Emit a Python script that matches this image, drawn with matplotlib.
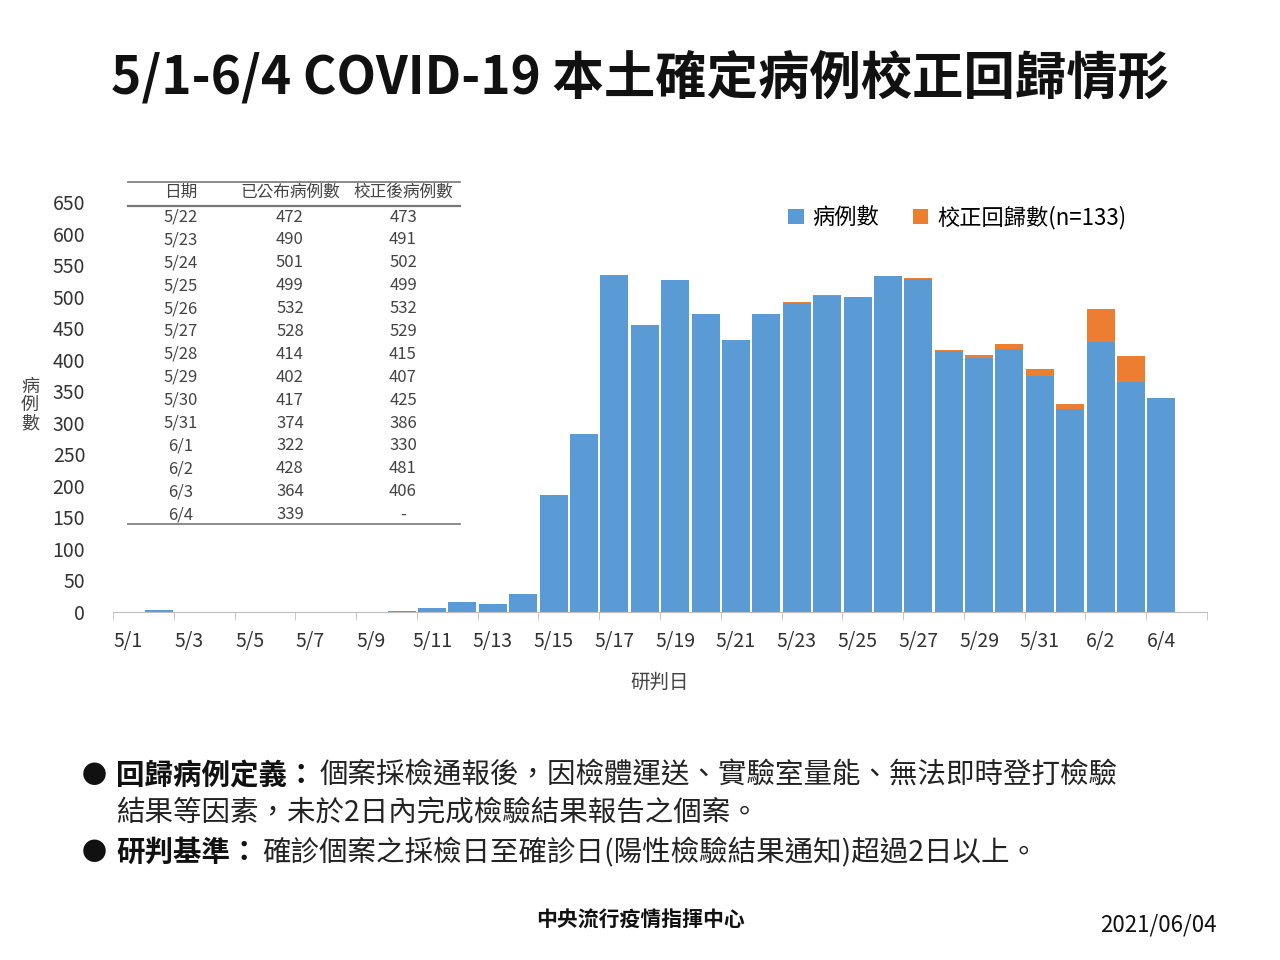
import matplotlib
matplotlib.use("Agg")
import matplotlib.pyplot as plt
import numpy as np

plt.rcParams['font.family'] = ['Noto Sans CJK TC', 'DejaVu Sans']

dates = [f"5/{d}" for d in range(1, 32)] + [f"6/{d}" for d in range(1, 5)]
cases = [0, 3, 0, 0, 0, 0, 0, 0, 0, 2, 6, 16, 13, 28, 185, 282, 535, 455, 527, 472, 432,
         472, 490, 501, 499, 532, 528, 414, 402, 417, 374, 322, 428, 364, 339]
corrected = [0]*21 + [1, 1, 1, 0, 0, 1, 1, 5, 8, 12, 8, 53, 42, 0]

tbl_dates = ["5/22","5/23","5/24","5/25","5/26","5/27","5/28","5/29","5/30","5/31","6/1","6/2","6/3","6/4"]
tbl_pub = ["472","490","501","499","532","528","414","402","417","374","322","428","364","339"]
tbl_cor = ["473","491","502","499","532","529","415","407","425","386","330","481","406","-"]

blue = "#5B9BD5"; orange = "#ED7D31"
fig = plt.figure(figsize=(12.8, 9.6), dpi=100)
W, H = 1280, 960
ax = fig.add_axes([113/W, 1-612/H, (1207-113)/W, (612-202)/H])
x = np.arange(len(dates))
ax.bar(x, cases, width=0.92, color=blue, label="病例數")
ax.bar(x, corrected, width=0.92, bottom=cases, color=orange, label="校正回歸數(n=133)")
ax.set_xlim(-0.5, len(dates)+0.5)
ax.set_ylim(0, 650)
ax.set_yticks(range(0, 651, 50))
ax.tick_params(axis='y', length=0, labelsize=14, colors="#333333", pad=20)
ax.set_xticks(x[::2])
ax.set_xticklabels(dates[::2], fontsize=14, color="#333333")
ax.set_xticks(np.arange(-0.5, len(dates)+1, 2), minor=True)
ax.tick_params(axis='x', which='major', length=0, pad=14)
ax.tick_params(axis='x', which='minor', length=6, color="#BFBFBF")
for s in ["top", "right", "left"]:
    ax.spines[s].set_visible(False)
ax.spines["bottom"].set_color("#BFBFBF")
ax.set_xlabel("研判日", fontsize=14, color="#444444", labelpad=14)
fig.text(30/W, 1-405/H, "病\n例\n數", fontsize=13, color="#444444", ha="center", va="center", linespacing=1.0)
ax.legend(loc="upper left", bbox_to_anchor=((768-113)/1094, 1.04), ncol=2, frameon=False, fontsize=16,
          handlelength=0.7, handleheight=0.7, columnspacing=1.5, handletextpad=0.4)

# table
cols = [181, 290, 403]
fig.text(cols[0]/W, 1-192/H, "日期", ha="center", va="center", fontsize=12, color="#444")
fig.text(cols[1]/W, 1-192/H, "已公布病例數", ha="center", va="center", fontsize=12, color="#444")
fig.text(cols[2]/W, 1-192/H, "校正後病例數", ha="center", va="center", fontsize=12, color="#444")
for yy in [182, 206, 524]:
    fig.add_artist(plt.Line2D([128/W, 460/W], [1-yy/H, 1-yy/H], color="#777777", lw=1.2 if yy != 206 else 1.6))
for i, (d, p, c) in enumerate(zip(tbl_dates, tbl_pub, tbl_cor)):
    yy = 1-(217+i*22.9)/H
    fig.text(cols[0]/W, yy, d, ha="center", va="center", fontsize=12, color="#444")
    fig.text(cols[1]/W, yy, p, ha="center", va="center", fontsize=12, color="#444")
    fig.text(cols[2]/W, yy, c, ha="center", va="center", fontsize=12, color="#444")

fig.text(0.5, 1-78/H, "5/1-6/4 COVID-19 本土確定病例校正回歸情形", ha="center", va="center",
         fontsize=37, fontweight="bold", color="#111111")
fs = 20.5
fig.text(82/W, 1-776/H, "●", fontsize=18, va="center", color="#111")
fig.text(116/W, 1-776/H, "回歸病例定義：", fontsize=fs, va="center", fontweight="bold", color="#111")
fig.text(320/W, 1-776/H, "個案採檢通報後，因檢體運送、實驗室量能、無法即時登打檢驗", fontsize=fs, va="center", color="#222")
fig.text(116/W, 1-814/H, "結果等因素，未於2日內完成檢驗結果報告之個案。", fontsize=fs, va="center", color="#222")
fig.text(82/W, 1-853/H, "●", fontsize=18, va="center", color="#111")
fig.text(116/W, 1-853/H, "研判基準：", fontsize=fs, va="center", fontweight="bold", color="#111")
fig.text(262/W, 1-853/H, "確診個案之採檢日至確診日(陽性檢驗結果通知)超過2日以上。", fontsize=fs, va="center", color="#222")
fig.text(640/W, 1-920/H, "中央流行疫情指揮中心", fontsize=15, ha="center", va="center", fontweight="bold", color="#111")
fig.text(1217/W, 1-925/H, "2021/06/04", fontsize=16, ha="right", va="center", color="#111")
fig.savefig("out.png", dpi=100)
